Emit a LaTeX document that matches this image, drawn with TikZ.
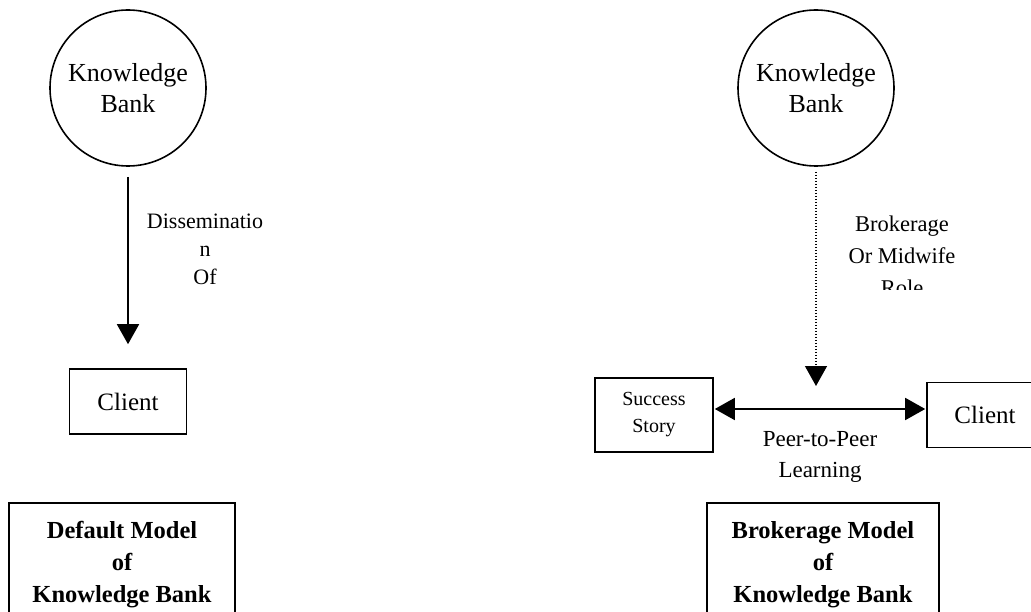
\documentclass[tikz,border=0pt]{standalone}
\usepackage{fontspec}
\setmainfont{Liberation Serif}
\usetikzlibrary{arrows.meta}

\begin{document}
\begin{tikzpicture}[x=1pt,y=-1pt,
	bank/.style={draw,circle,line width=1.6pt,minimum size=156pt,inner sep=0pt,align=center,font=\fontsize{26}{31}\selectfont},
	box/.style={draw,rectangle,line width=1.6pt,inner sep=0pt,align=center},
	title/.style={box,font=\bfseries\fontsize{24.5}{32}\selectfont},
	lbl/.style={align=center,inner sep=0pt},
	tip/.style={line width=1.7pt,-{Triangle[length=20pt,width=22pt]}},
	]
	\useasboundingbox (0,0) rectangle (1031,612);

	% default model
	\node[bank] (kbL) at (128,88) {Knowledge\\Bank};
	\node[box,minimum width=117pt,minimum height=65pt,font=\fontsize{25}{30}\selectfont] (clientL) at (128,401.5) {Client};
	\node[title,minimum width=226pt,minimum height=124pt] (modelL) at (122,565) {Default Model\\of\\Knowledge Bank};
	\draw[tip,shorten <=10pt,shorten >=24pt] (kbL) -- (clientL);
	\node[lbl,font=\fontsize{22}{28}\selectfont] (dissL) at (205,249) {Disseminatio\\n\\Of};

	% brokerage model
	\node[bank] (kbR) at (816,88) {Knowledge\\Bank};
	\node[box,minimum width=118pt,minimum height=74pt,font=\fontsize{20}{27}\selectfont] (story) at (654,415) {Success\\Story};
	\node[box,minimum width=116pt,minimum height=65pt,font=\fontsize{25}{30}\selectfont] (clientR) at (985,415) {Client};
	\node[title,minimum width=232pt,minimum height=124pt] (modelR) at (823,565) {Brokerage Model\\of\\Knowledge Bank};
	\coordinate (hit) at (816,386);
	\draw[tip,line width=1.3pt,dash pattern=on 1.5pt off 1.5pt,shorten <=5pt] (kbR) -- (hit);
	\draw[tip,{Triangle[length=20pt,width=22pt]}-{Triangle[length=20pt,width=22pt]},shorten <=1pt,shorten >=1pt] ([yshift=6pt]story.east) -- ([yshift=6pt]clientR.west);
	\begin{scope}
		\clip (830,200) rectangle (990,290);
		\node[lbl,font=\fontsize{22.5}{32}\selectfont] (roleR) at (902,256) {Brokerage\\Or Midwife\\Role};
	\end{scope}
	\begin{scope}
		\clip (740,420) rectangle (900,482);
		\node[lbl,font=\fontsize{23}{31}\selectfont] (peer) at (820,457) {Peer-to-Peer\\Learning};
	\end{scope}
\end{tikzpicture}
\end{document}
